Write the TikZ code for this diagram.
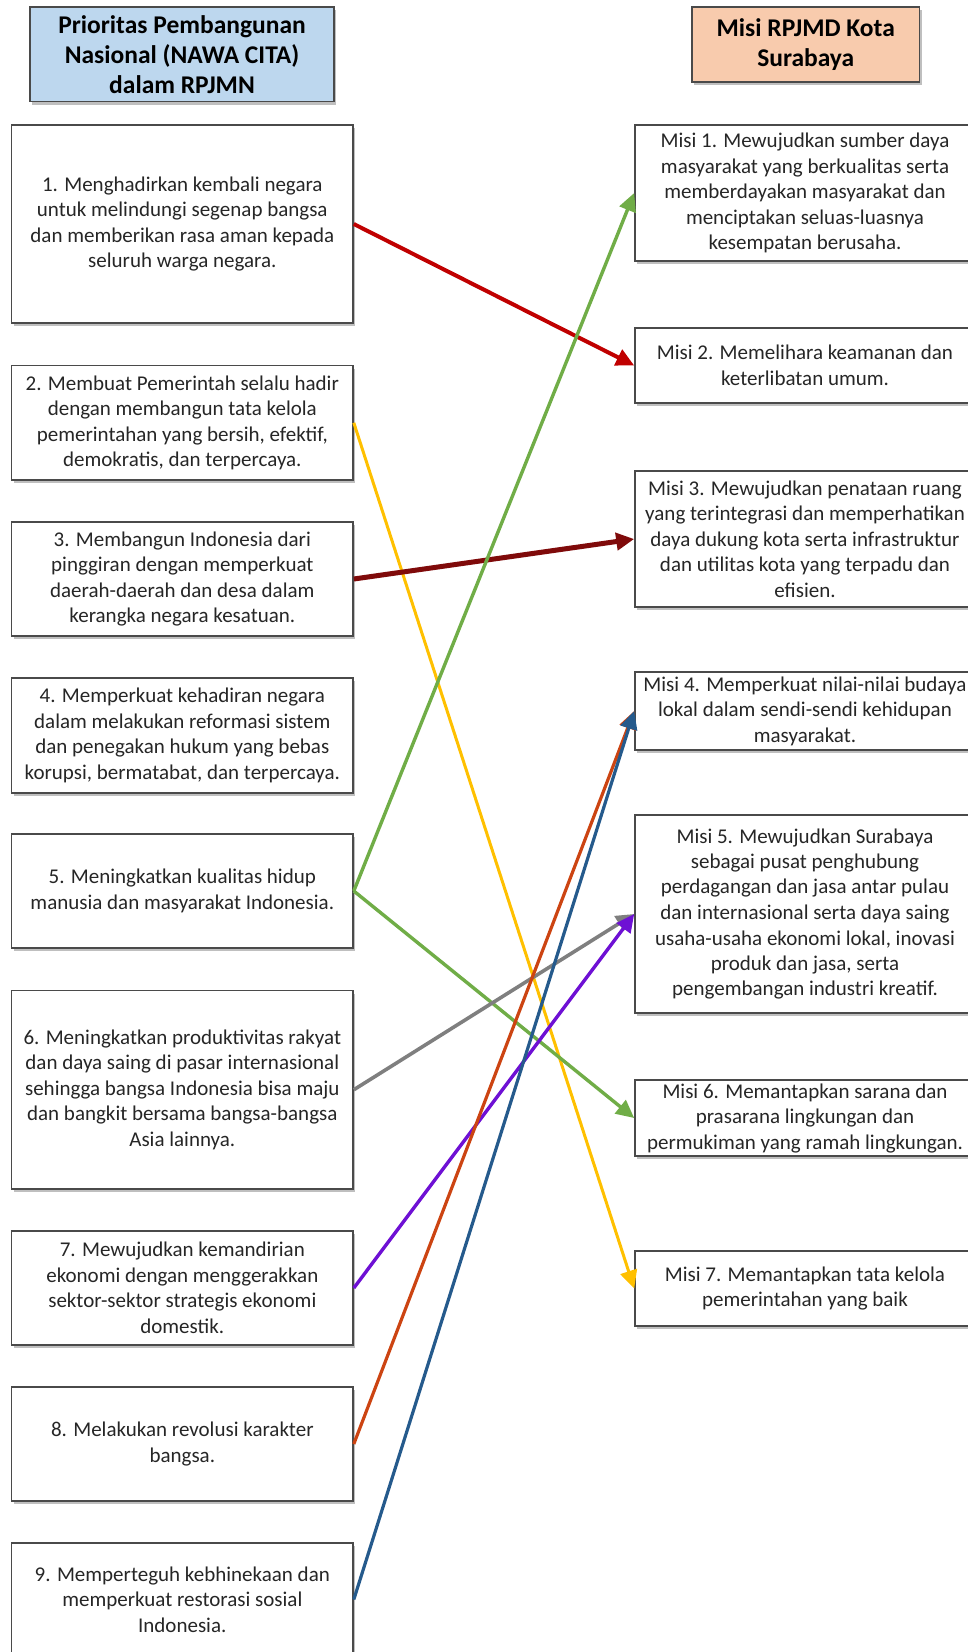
\documentclass[tikz,border=0pt]{standalone}
\usepackage{fontspec}
\setmainfont{Carlito}
\usetikzlibrary{arrows.meta,shadows}
\definecolor{boxline}{HTML}{4A4A4A}
\definecolor{txt}{HTML}{262626}
\definecolor{hdrblue}{HTML}{BDD7EE}
\definecolor{hdrpeach}{HTML}{F8CBAD}
\definecolor{cRed}{HTML}{C00000}
\definecolor{cYellow}{HTML}{FFC000}
\definecolor{cMaroon}{HTML}{7F0A0A}
\definecolor{cGreen}{HTML}{70AD47}
\definecolor{cGray}{HTML}{7F7F7F}
\definecolor{cPurple}{HTML}{6E10D4}
\definecolor{cOrange}{HTML}{CC4412}
\definecolor{cBlue}{HTML}{255A8C}
\tikzset{
  box/.style={draw=boxline, line width=1.6pt, fill=white, align=center, text=txt,
    inner sep=0pt, font=\fontsize{21}{25.5}\selectfont,
    drop shadow={shadow xshift=2pt, shadow yshift=-3pt, opacity=0.25, fill=black}},
  lbox/.style={box, minimum width=341.4pt},
  rbox/.style={box, minimum width=340pt},
  hdr/.style={draw=boxline, line width=1.6pt, align=center, text=black, inner sep=0pt,
    font=\bfseries\fontsize{25.5}{30}\selectfont,
    drop shadow={shadow xshift=2pt, shadow yshift=-3pt, opacity=0.25, fill=black}},
  link/.style={line width=#1, -{Triangle[length=18pt,width=17pt]}},
  link/.default=3.2pt
}
\begin{document}
\begin{tikzpicture}[x=1pt,y=1pt]
\useasboundingbox (0,0) rectangle (968,-1652);
\clip (0,0) rectangle (968,-1652);
% headers
\node[hdr, fill=hdrblue, minimum width=304pt, minimum height=94.5pt] (HL) at (182,-54.25)
  {Prioritas Pembangunan\\Nasional (NAWA CITA)\\dalam RPJMN};
\node[hdr, fill=hdrpeach, minimum width=227.5pt, minimum height=75pt] (HR) at (805.75,-44.5)
  {Misi RPJMD Kota\\Surabaya};
% left boxes
\node[lbox, minimum height=198pt] (L1) at (182.3,-224)
  {1. Menghadirkan kembali negara\\untuk melindungi segenap bangsa\\dan memberikan rasa aman kepada\\seluruh warga negara.};
\node[lbox, minimum height=114.5pt] (L2) at (182.3,-422.75)
  {2. Membuat Pemerintah selalu hadir\\dengan membangun tata kelola\\pemerintahan yang bersih, efektif,\\demokratis, dan terpercaya.};
\node[lbox, minimum height=113.5pt] (L3) at (182.3,-579)
  {3. Membangun Indonesia dari\\pinggiran dengan memperkuat\\daerah-daerah dan desa dalam\\kerangka negara kesatuan.};
\node[lbox, minimum height=115pt] (L4) at (182.3,-735.5)
  {4. Memperkuat kehadiran negara\\dalam melakukan reformasi sistem\\dan penegakan hukum yang bebas\\korupsi, bermatabat, dan terpercaya.};
\node[lbox, minimum height=114pt] (L5) at (182.3,-891)
  {5. Meningkatkan kualitas hidup\\manusia dan masyarakat Indonesia.};
\node[lbox, minimum height=198.5pt] (L6) at (182.3,-1089.75)
  {6. Meningkatkan produktivitas rakyat\\dan daya saing di pasar internasional\\sehingga bangsa Indonesia bisa maju\\dan bangkit bersama bangsa-bangsa\\Asia lainnya.};
\node[lbox, minimum height=114pt] (L7) at (182.3,-1288)
  {7. Mewujudkan kemandirian\\ekonomi dengan menggerakkan\\sektor-sektor strategis ekonomi\\domestik.};
\node[lbox, minimum height=114pt] (L8) at (182.3,-1444)
  {8. Melakukan revolusi karakter\\bangsa.};
\node[lbox, minimum height=113pt] (L9) at (182.3,-1599.5)
  {9. Memperteguh kebhinekaan dan\\memperkuat restorasi sosial\\Indonesia.};
% right boxes
\node[rbox, minimum height=136pt] (R1) at (805,-193)
  {Misi 1. Mewujudkan sumber daya\\masyarakat yang berkualitas serta\\memberdayakan masyarakat dan\\menciptakan seluas-luasnya\\kesempatan berusaha.};
\node[rbox, minimum height=75pt] (R2) at (805,-365.5)
  {Misi 2. Memelihara keamanan dan\\keterlibatan umum.};
\node[rbox, minimum height=136pt] (R3) at (805,-539)
  {Misi 3. Mewujudkan penataan ruang\\yang terintegrasi dan memperhatikan\\daya dukung kota serta infrastruktur\\dan utilitas kota yang terpadu dan\\efisien.};
\node[rbox, minimum height=78pt] (R4) at (805,-711)
  {Misi 4. Memperkuat nilai-nilai budaya\\lokal dalam sendi-sendi kehidupan\\masyarakat.};
\node[rbox, minimum height=198.5pt] (R5) at (805,-914)
  {Misi 5. Mewujudkan Surabaya\\sebagai pusat penghubung\\perdagangan dan jasa antar pulau\\dan internasional serta daya saing\\usaha-usaha ekonomi lokal, inovasi\\produk dan jasa, serta\\pengembangan industri kreatif.};
\node[rbox, minimum height=76pt] (R6) at (805,-1118)
  {Misi 6. Memantapkan sarana dan\\prasarana lingkungan dan\\permukiman yang ramah lingkungan.};
\node[rbox, minimum height=75pt] (R7) at (805,-1288.5)
  {Misi 7. Memantapkan tata kelola\\pemerintahan yang baik};
% connectors
\draw[link=4pt, cRed] (L1.east) -- (R2.west);
\draw[link=3pt, cYellow] (L2.east) -- (R7.west);
\draw[link=5pt, cMaroon] (L3.east) -- (R3.west);
\draw[link=3.4pt, cGreen] (L5.east) -- (R1.west);
\draw[link=3.4pt, cGreen] (L5.east) -- (R6.west);
\draw[link=3.6pt, cGray] (L6.east) -- (R5.west);
\draw[link=3.4pt, cPurple] (L7.east) -- (R5.west);
\draw[link=3.2pt, cOrange] (L8.east) -- (R4.west);
\draw[link=3.2pt, cBlue] (L9.east) -- (R4.west);
\end{tikzpicture}
\end{document}
